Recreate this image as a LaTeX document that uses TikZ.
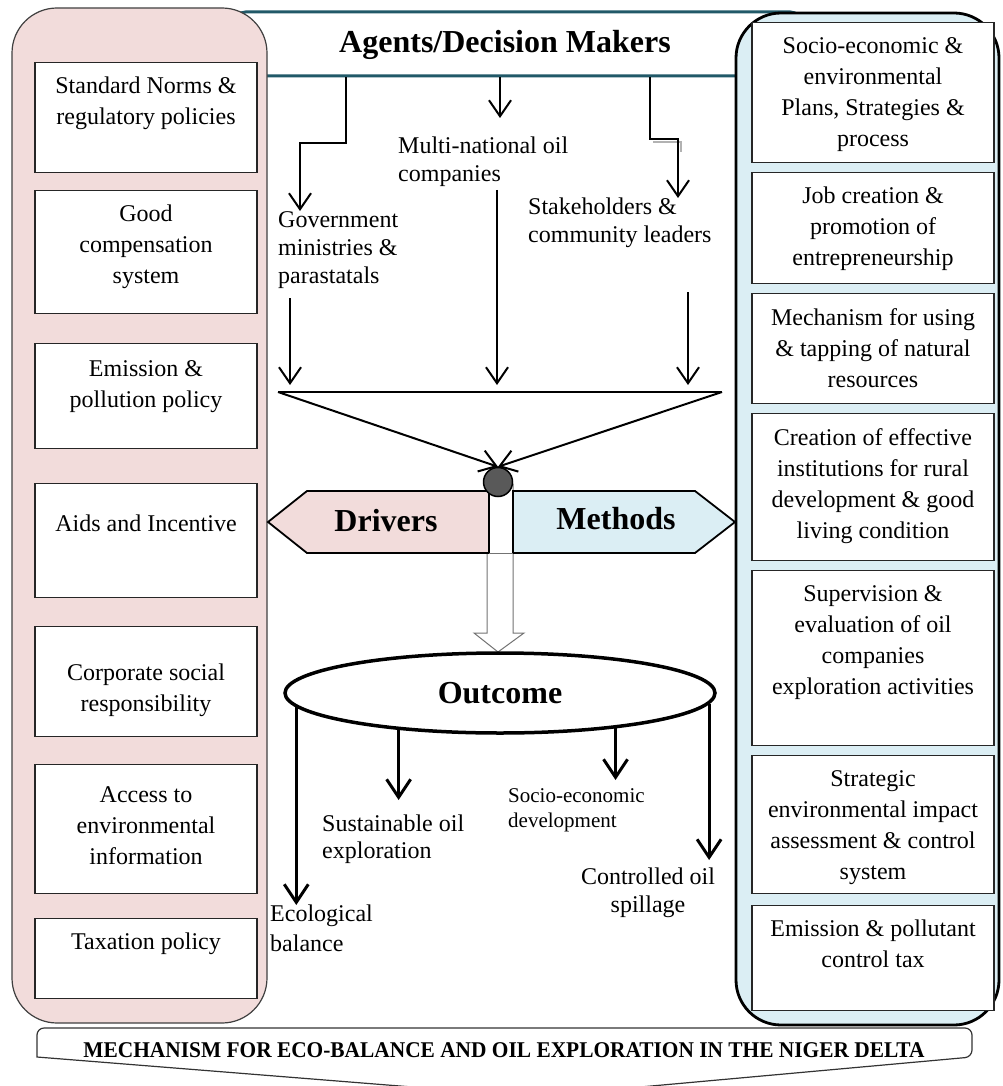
\documentclass[tikz,border=0pt]{standalone}
\usepackage{fontspec}
\setmainfont{Liberation Serif}
\usepackage{tikz}
\usetikzlibrary{arrows.meta,shapes.geometric}

\definecolor{DriverPink}{HTML}{F2DCDB}
\definecolor{MethodBlue}{HTML}{DBEEF4}
\definecolor{AgentTeal}{HTML}{215968}
\definecolor{HubGrey}{HTML}{595959}

\tikzset{
	sidebox/.style={draw=black!85, line width=1.2pt, fill=white, anchor=north, inner sep=0pt},
	leftbox/.style={sidebox, minimum width=222pt},
	rightbox/.style={sidebox, minimum width=242pt},
	boxtext/.style={anchor=north, align=center, inner sep=0pt, font=\fontsize{24}{31}\selectfont},
	agenttext/.style={align=left, inner sep=0pt, font=\fontsize{24}{28}\selectfont},
	headline/.style={font=\fontsize{32}{36}\selectfont\bfseries, inner sep=0pt},
	flow/.style={line width=2pt, -{Straight Barb[length=16pt, width=22pt]}},
	outflow/.style={line width=3pt, -{Straight Barb[length=18pt, width=24pt]}},
}

\begin{document}
\begin{tikzpicture}[x=1pt, y=-1pt]
		\useasboundingbox (0, 0) rectangle (1002, 1086);

		\node[draw=AgentTeal, line width=3pt, fill=white, rounded corners=10pt, minimum width=565pt, minimum height=64pt, inner sep=0pt] at (518, 44) (banner) {};

		\draw[draw=black!75, line width=1.2pt, fill=DriverPink, rounded corners=45pt] (12, 8) rectangle (267, 1023);
		\draw[draw=black, line width=2.8pt, fill=MethodBlue, rounded corners=45pt] (736, 13) rectangle (999, 1025);

		% drivers column
		\node[leftbox, minimum height=110pt] at (146, 62) (l1) {};
		\node[leftbox, minimum height=123pt] at (146, 190) (l2) {};
		\node[leftbox, minimum height=105pt] at (146, 343) (l3) {};
		\node[leftbox, minimum height=114pt] at (146, 483) (l4) {};
		\node[leftbox, minimum height=110pt] at (146, 626) (l5) {};
		\node[leftbox, minimum height=129pt] at (146, 764) (l6) {};
		\node[leftbox, minimum height=80pt] at (146, 918) (l7) {};

		\node[boxtext] at ([yshift=-15pt]l1.north) (l1t) {Standard Norms \&\\ regulatory policies};
		\node[boxtext] at ([yshift=-15pt]l2.north) (l2t) {Good\\ compensation\\ system};
		\node[boxtext] at ([yshift=-17pt]l3.north) (l3t) {Emission \&\\ pollution policy};
		\node[boxtext] at ([yshift=-32pt]l4.north) (l4t) {Aids and Incentive};
		\node[boxtext] at ([yshift=-38pt]l5.north) (l5t) {Corporate social\\ responsibility};
		\node[boxtext] at ([yshift=-22pt]l6.north) (l6t) {Access to\\ environmental\\ information};
		\node[boxtext] at ([yshift=-15pt]l7.north) (l7t) {Taxation policy};

		% methods column
		\node[rightbox, minimum height=140pt] at (873, 22) (r1) {};
		\node[rightbox, minimum height=111pt] at (873, 172) (r2) {};
		\node[rightbox, minimum height=110pt] at (873, 293) (r3) {};
		\node[rightbox, minimum height=147pt] at (873, 413) (r4) {};
		\node[rightbox, minimum height=175pt] at (873, 570) (r5) {};
		\node[rightbox, minimum height=138pt] at (873, 755) (r6) {};
		\node[rightbox, minimum height=105pt] at (873, 905) (r7) {};

		\node[boxtext] at ([yshift=-15pt]r1.north) (r1t) {Socio-economic \&\\ environmental\\ Plans, Strategies \&\\ process};
		\node[boxtext] at ([yshift=-15pt]r2.north) (r2t) {Job creation \&\\ promotion of\\ entrepreneurship};
		\node[boxtext] at ([yshift=-15pt]r3.north) (r3t) {Mechanism for using\\ \& tapping of natural\\ resources};
		\node[boxtext] at ([yshift=-15pt]r4.north) (r4t) {Creation of effective\\ institutions for rural\\ development \& good\\ living condition};
		\node[boxtext] at ([yshift=-15pt]r5.north) (r5t) {Supervision \&\\ evaluation of oil\\ companies\\ exploration activities};
		\node[boxtext] at ([yshift=-15pt]r6.north) (r6t) {Strategic\\ environmental impact\\ assessment \& control\\ system};
		\node[boxtext] at ([yshift=-15pt]r7.north) (r7t) {Emission \& pollutant\\ control tax};

		% agents
		\node[headline] at (505, 45) (agents) {Agents/Decision Makers};

		\node[agenttext, anchor=north west] at (278, 211) (gov) {Government\\ ministries \&\\ parastatals};
		\node[agenttext, anchor=north west] at (398, 137) (multi) {Multi-national oil\\ companies};
		\node[agenttext, anchor=north west] at (528, 198) (stake) {Stakeholders \&\\ community leaders};

		\coordinate (gstep) at (300, 143);
		\coordinate (sstep) at (678, 139);
		\coordinate (mtip) at (500, 118);

		\draw[flow] (banner.south -| 346,0) |- (gstep) -- (gov.north -| gstep);
		\draw[flow] (banner.south -| mtip) -- (mtip);
		\draw[line width=1.8pt, black!30] (653, 142) -- (681, 142) -- (681, 152);
		\draw[flow] (banner.south -| 650,0) |- (sstep) -- (stake.north -| sstep);

		% funnel
		\coordinate (tl) at (278, 392);
		\coordinate (tr) at (722, 392);
		\coordinate (gl) at (290, 298);
		\coordinate (ml) at (497, 190);
		\coordinate (sl) at (688, 292);

		\draw[flow, shorten >=7pt] (gl) -- (gl |- tl);
		\draw[flow, shorten >=7pt] (ml) -- (ml |- tl);
		\draw[flow, shorten >=7pt] (sl) -- (sl |- tl);

		\draw[black!55, line width=1pt, fill=white] (487, 484) -- (487, 633) -- (474, 633) -- (498, 652) -- (524, 633) -- (513, 633) -- (513, 484) -- cycle;

		\draw[line width=1.8pt, fill=DriverPink] (268, 522) -- (307, 491) -- (489, 491) -- (489, 553) -- (307, 553) -- cycle;
		\draw[line width=1.8pt, fill=MethodBlue] (513, 491) -- (695, 491) -- (735, 522) -- (695, 553) -- (513, 553) -- cycle;
		\draw[black!55, line width=1pt] (489, 553) -- (513, 553);

		\node[headline] at (386, 521) (drivers) {Drivers};
		\node[headline] at (616, 519) (methods) {Methods};

		\node[circle, draw, line width=1.5pt, fill=HubGrey, minimum size=29pt, inner sep=0pt] at (498, 482) (hub) {};

		\draw[line width=2pt] (tl) -- (tr);
		\draw[flow] (tl) -- (hub.north);
		\draw[flow] (tr) -- (hub.north);

		% outcome
		\node[ellipse, draw, line width=3.5pt, fill=white, minimum width=430pt, minimum height=80pt, headline] at (500, 693) (outcome) {Outcome};

		\node[agenttext, anchor=north west, font=\fontsize{24}{30}\selectfont] at (270, 905) (eco) {Ecological\\ balance};
		\node[agenttext, anchor=north west, font=\fontsize{24}{27}\selectfont] at (322, 815) (sust) {Sustainable oil\\ exploration};
		\node[agenttext, anchor=north west, font=\fontsize{21}{25}\selectfont] at (508, 788) (socio) {Socio-economic\\ development};
		\node[agenttext, anchor=north, align=center] at (648, 868) (ctrl) {Controlled oil\\ spillage};

		\draw[outflow] (outcome.184) -- (eco.north -| outcome.184);
		\draw[outflow, shorten >=15pt] (outcome.200) -- (sust.north -| outcome.200);
		\draw[outflow, shorten >=8pt] (outcome.-17) -- (socio.north -| outcome.-17);
		\draw[outflow, shorten >=8pt] (outcome.-3) -- (ctrl.north -| outcome.-3);

		% ribbon
		\draw[black!80, line width=1.2pt, fill=white] (475, 1092) -- (37, 1057) [rounded corners=7pt] -- (37, 1028) -- (972, 1028) -- (972, 1057) [sharp corners] -- (585, 1092);
		\node[font=\fontsize{22.5}{24}\selectfont\bfseries, inner sep=0pt] at (504, 1050) (title) {\scalebox{0.95}[1]{MECHANISM FOR ECO-BALANCE AND OIL EXPLORATION IN THE NIGER DELTA}};
	\end{tikzpicture}
\end{document}
